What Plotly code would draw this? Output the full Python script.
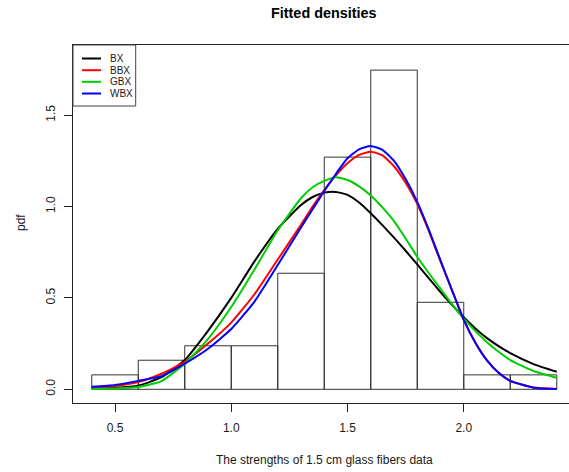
import plotly.graph_objects as go

# ---------------- data ----------------
bin_centers = [0.5, 0.7, 0.9, 1.1, 1.3, 1.5, 1.7, 1.9, 2.1, 2.3]
bin_density = [0.079, 0.159, 0.238, 0.238, 0.635, 1.270, 1.746, 0.476, 0.079, 0.079]

xs = [0.40, 0.50, 0.60, 0.70, 0.80, 0.90, 1.00, 1.10, 1.20, 1.30, 1.35, 1.40, 1.45,
      1.50, 1.55, 1.60, 1.65, 1.70, 1.75, 1.80, 1.85, 1.90, 1.95, 2.00, 2.05, 2.10,
      2.15, 2.20, 2.30, 2.40]

bx = [0.004, 0.008, 0.020, 0.066, 0.160, 0.320, 0.500, 0.700, 0.878, 1.008, 1.052, 1.076, 1.080,
      1.064, 1.022, 0.963, 0.898, 0.830, 0.758, 0.683, 0.607, 0.532, 0.461, 0.394, 0.333, 0.280,
      0.236, 0.198, 0.138, 0.096]
bbx = [0.008, 0.018, 0.040, 0.085, 0.150, 0.250, 0.365, 0.520, 0.710, 0.900, 1.000, 1.090, 1.170,
       1.236, 1.282, 1.300, 1.280, 1.220, 1.130, 1.015, 0.865, 0.700, 0.540, 0.380, 0.255, 0.158,
       0.090, 0.046, 0.010, 0.002]
gbx = [0.002, 0.005, 0.013, 0.045, 0.140, 0.275, 0.450, 0.655, 0.870, 1.045, 1.105, 1.140, 1.160,
       1.145, 1.110, 1.060, 0.995, 0.920, 0.825, 0.725, 0.635, 0.550, 0.465, 0.388, 0.318, 0.258,
       0.205, 0.160, 0.100, 0.063]
wbx = [0.014, 0.024, 0.046, 0.072, 0.140, 0.222, 0.330, 0.480, 0.680, 0.885, 0.985, 1.085, 1.178,
       1.264, 1.313, 1.331, 1.310, 1.250, 1.150, 1.025, 0.872, 0.705, 0.540, 0.380, 0.255, 0.158,
       0.090, 0.046, 0.009, 0.002]

series_names = ["BX", "BBX", "GBX", "WBX"]
series_vals = [bx, bbx, gbx, wbx]
series_colors = ["#000000", "#FF0000", "#00CD00", "#0000FF"]

x_ticks = [0.5, 1.0, 1.5, 2.0]
x_ticklabels = ["0.5", "1.0", "1.5", "2.0"]
y_ticks = [0.0, 0.5, 1.0, 1.5]
y_ticklabels = ["0.0", "0.5", "1.0", "1.5"]

# ---------------- layout helpers ----------------
W, H = 569, 472
ML, MR, MT, MB = 73, 0, 45, 69
PW, PH = W - ML - MR, H - MT - MB


def X(px):
    return (px - ML) / PW


def Y(py):
    return (H - MB - py) / PH


FONT = "Liberation Sans, Arial, sans-serif"
INK = "#1a1a1a"

fig = go.Figure()
fig.add_trace(go.Bar(
    x=bin_centers, y=bin_density, width=0.2,
    marker=dict(color="rgba(255,255,255,0)", line=dict(color="#333333", width=1)),
    showlegend=False, hoverinfo="skip"))

for name, vals, col in zip(series_names, series_vals, series_colors):
    fig.add_trace(go.Scatter(x=xs, y=vals, mode="lines", name=name,
                             line=dict(color=col, width=2, shape="spline", smoothing=0.5),
                             showlegend=False))

shapes = []
annotations = []
# legend box
shapes.append(dict(type="rect", xref="paper", yref="paper",
                   x0=X(73), x1=X(135.7), y0=Y(106), y1=Y(45),
                   line=dict(color="#444444", width=1), fillcolor="white", layer="above"))
leg_y = [58.5, 70.2, 81.8, 93.5]
for name, col, ly in zip(series_names, series_colors, leg_y):
    shapes.append(dict(type="line", xref="paper", yref="paper",
                       x0=X(82), x1=X(101), y0=Y(ly), y1=Y(ly),
                       line=dict(color=col, width=2), layer="above"))
    annotations.append(dict(text=name, xref="paper", yref="paper", x=X(108), y=Y(ly),
                            xanchor="left", yanchor="middle", showarrow=False,
                            font=dict(family=FONT, size=10, color=INK)))

annotations.append(dict(text="<b>Fitted densities</b>", xref="paper", yref="paper",
                        x=X(324), y=Y(13), xanchor="center", yanchor="middle", showarrow=False,
                        font=dict(family=FONT, size=14.4, color="#000000")))
annotations.append(dict(text="The strengths of 1.5 cm glass fibers data", xref="paper", yref="paper",
                        x=X(324), y=Y(460), xanchor="center", yanchor="middle", showarrow=False,
                        font=dict(family=FONT, size=12, color=INK)))
annotations.append(dict(text="pdf", xref="paper", yref="paper", textangle=-90,
                        x=X(21), y=Y(223), xanchor="center", yanchor="middle", showarrow=False,
                        font=dict(family=FONT, size=12, color=INK)))

x_lo = 0.5 - (115 - ML) / 232.5
x_hi = 0.5 + (W - 115) / 232.5
y_lo = -(H - MB - 389.3) / 182.8
y_hi = (389.3 - MT) / 182.8

fig.update_layout(
    width=W, height=H,
    margin=dict(l=ML, r=MR, t=MT, b=MB, pad=0),
    paper_bgcolor="white", plot_bgcolor="white",
    bargap=0,
    shapes=shapes, annotations=annotations,
    showlegend=False,
    font=dict(family=FONT, size=12, color=INK),
    xaxis=dict(range=[x_lo, x_hi], tickvals=x_ticks, ticktext=x_ticklabels,
               showgrid=False, zeroline=False, showline=True, mirror=True,
               linecolor="#222222", linewidth=1, ticks="outside", ticklen=8,
               tickcolor="#222222", tickwidth=1, ticklabelstandoff=6,
               tickfont=dict(family=FONT, size=12, color=INK)),
    yaxis=dict(range=[y_lo, y_hi], tickvals=y_ticks, ticktext=y_ticklabels,
               showgrid=False, zeroline=False, showline=True, mirror=False,
               linecolor="#222222", linewidth=1, ticks="outside", ticklen=8,
               tickcolor="#222222", tickwidth=1, tickangle=-90, ticklabelstandoff=4,
               tickfont=dict(family=FONT, size=12, color=INK)),
)

fig.write_html("out.html", config={"displayModeBar": False, "staticPlot": True},
               post_script="document.body.style.margin='0';document.body.style.overflow='hidden';")
